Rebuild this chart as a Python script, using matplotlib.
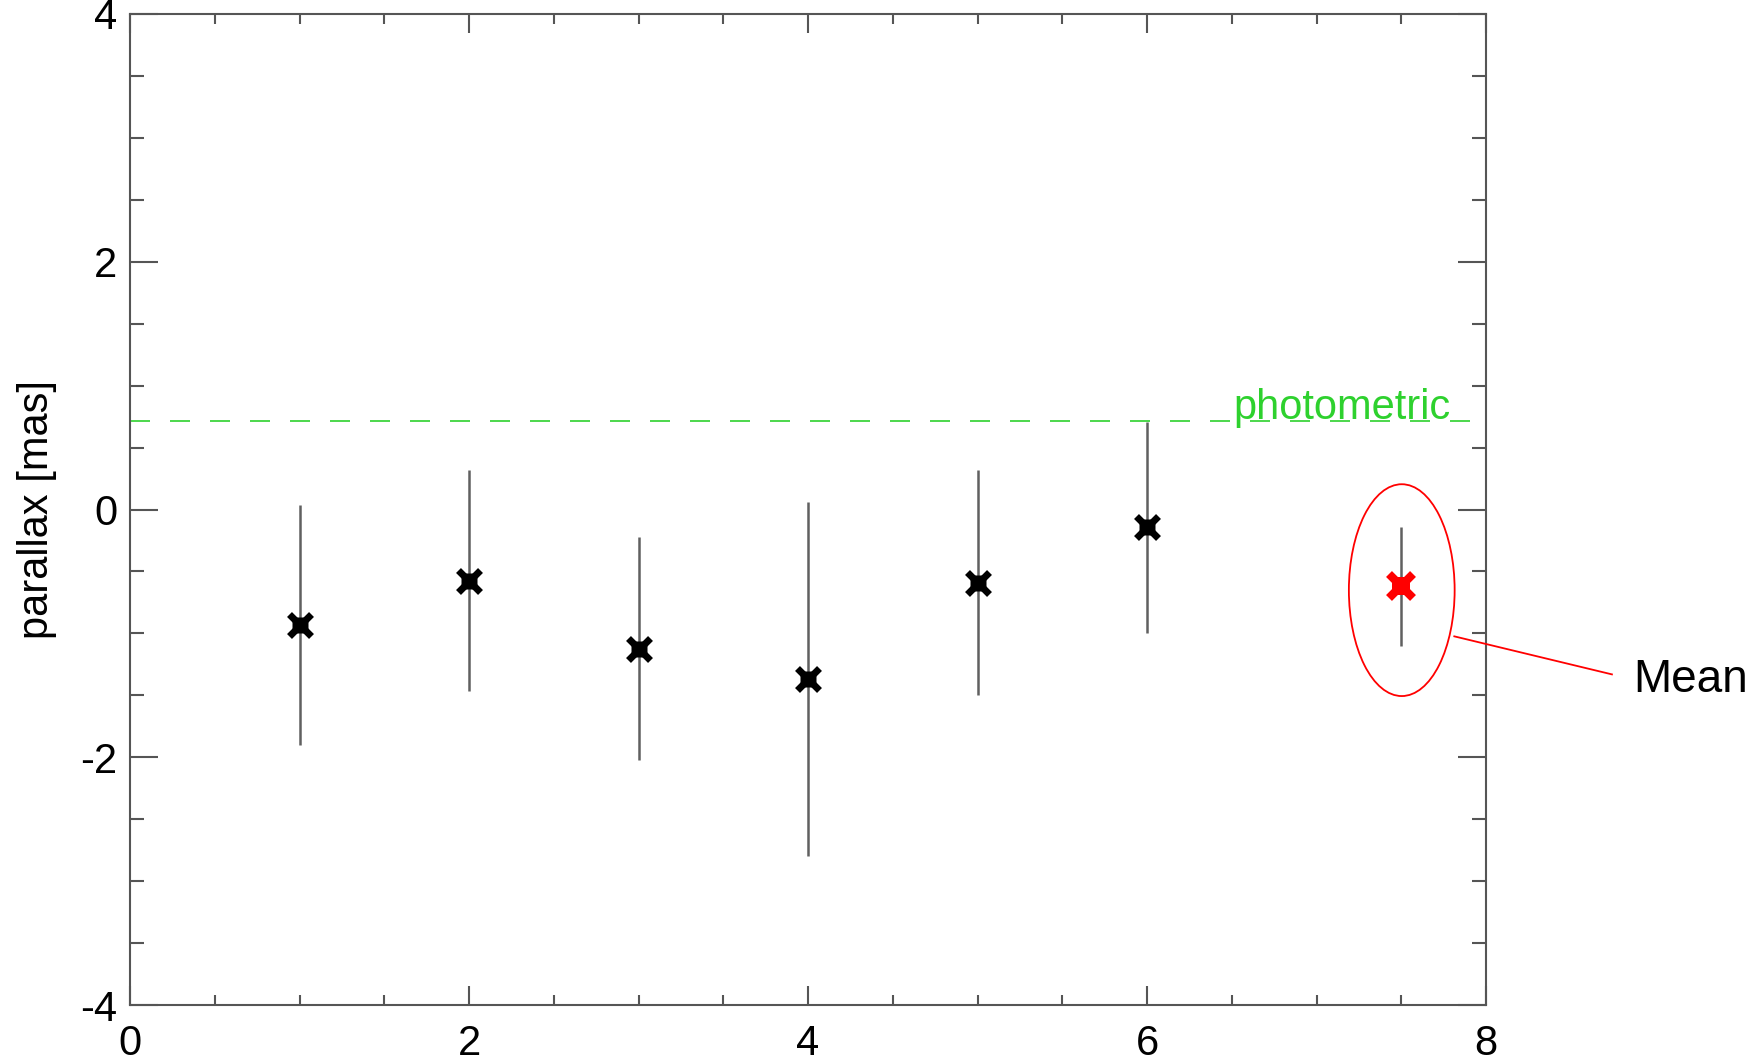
import matplotlib
matplotlib.use("Agg")
import matplotlib.pyplot as plt
from matplotlib.patches import Ellipse
from matplotlib.ticker import MultipleLocator

plt.rcParams["font.family"] = ["Liberation Sans", "DejaVu Sans"]
plt.rcParams["axes.unicode_minus"] = False

# individual parallax measurements
epoch = [1, 2, 3, 4, 5, 6]
parallax = [-0.93, -0.575, -1.125, -1.37, -0.59, -0.145]
parallax_err = [0.97, 0.89, 0.90, 1.43, 0.91, 0.85]

# weighted mean
mean_x = 7.5
mean_parallax = -0.62
mean_err = 0.48

photometric = 0.712

AX_GREY = "#555555"
GREEN = "#2ed12e"

fig = plt.figure(figsize=(17.62, 10.63), dpi=100)
ax = fig.add_axes([0.07378, 0.05456, 0.76958, 0.93227])

# photometric reference
ax.axhline(photometric, color=GREEN, lw=1.2, linestyle=(0, (12, 12)))
ax.text(6.507, photometric + 0.02, "photometric", color=GREEN, fontsize=30,
        ha="left", va="baseline")

# error bars + asterisk markers
ax.errorbar(epoch, parallax, yerr=parallax_err, fmt="none",
            ecolor="#606060", elinewidth=1.8, capsize=0, zorder=2)
ax.plot(epoch, parallax, "x", color="black", ms=16, mew=5, zorder=3)
ax.plot(epoch, parallax, "+", color="black", ms=12, mew=5, zorder=3)

ax.errorbar([mean_x], [mean_parallax], yerr=[mean_err], fmt="none",
            ecolor="#606060", elinewidth=1.8, capsize=0, zorder=2)
ax.plot([mean_x], [mean_parallax], "x", color="red", ms=17, mew=6, zorder=3)
ax.plot([mean_x], [mean_parallax], "+", color="red", ms=13, mew=6, zorder=3)

# highlight of the mean
ax.add_patch(Ellipse((7.503, -0.651), 0.624, 1.71, fill=False,
                     edgecolor="red", lw=1.3, zorder=4))
ax.plot([7.813, 8.743], [-1.024, -1.331], color="red", lw=1.3,
        clip_on=False, zorder=4)
ax.text(8.867, -1.476, "Mean", fontsize=33, ha="left", va="baseline",
        clip_on=False)

ax.set_xlim(0, 8)
ax.set_ylim(-4, 4)
ax.xaxis.set_major_locator(MultipleLocator(2))
ax.xaxis.set_minor_locator(MultipleLocator(0.5))
ax.yaxis.set_major_locator(MultipleLocator(2))
ax.yaxis.set_minor_locator(MultipleLocator(0.5))

for sp in ax.spines.values():
    sp.set_color(AX_GREY)
    sp.set_linewidth(1.5)

ax.tick_params(axis="both", which="both", direction="in", top=True,
               right=True, color=AX_GREY, width=1.5, labelsize=30)
ax.tick_params(axis="x", which="major", length=14, pad=14)
ax.tick_params(axis="x", which="minor", length=7)
ax.tick_params(axis="y", which="major", length=20, pad=9)
ax.tick_params(axis="y", which="minor", length=10)

ax.set_ylabel("parallax [mas]", fontsize=30, va="center")
ax.yaxis.set_label_coords(-0.0686, 0.5)

fig.savefig("out.png", dpi=100)
